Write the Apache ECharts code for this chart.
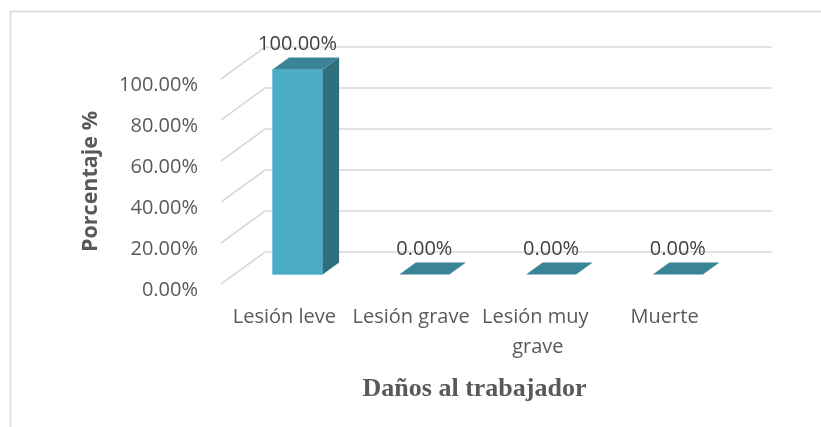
<!DOCTYPE html>
<html>
<head>
<meta charset="utf-8">
<script src="https://cdn.jsdelivr.net/npm/echarts@6/dist/echarts.min.js"></script>
<style>
  html, body { margin: 0; padding: 0; background: #ffffff; }
  #chart { width: 821px; height: 427px; }
</style>
</head>
<body>
<div id="chart"></div>
<script>
// Categories and values (percent of cases)
const categories = ['Lesión leve', 'Lesión grave', 'Lesión muy grave', 'Muerte'];
const percentages = [100, 0, 0, 0];
const yTicks = [0, 20, 40, 60, 80, 100];
const xTitle = 'Daños al trabajador';
const yTitle = 'Porcentaje %';

// Oblique projection of the depth axis (full depth of the plot box)
const DEPTH_X = 44;
const DEPTH_Y = -32;
const BAR_FRONT = 0.30;   // depth fraction of the bar's front face
const BAR_BACK = 0.675;   // depth fraction of the bar's back face
const BAR_WIDTH = 0.395;  // share of the category band

const GRID_COLOR = '#d9d9d9';
const TEXT_COLOR = '#595959';
const FRONT_COLOR = '#4bacc6';
const TOP_COLOR = '#3b8397';
const SIDE_COLOR = '#2f6f7d';
const SANS = '"Open Sans"';

const fmtPct = v => Number(v).toFixed(2) + '%';

const chart = echarts.init(document.getElementById('chart'), null, { renderer: 'canvas' });

// Side wall and back wall gridlines, one polyline per tick value
function renderWalls(params, api) {
  const cs = params.coordSys;
  const v = api.value(0);
  const y = api.coord([0, v])[1];
  const x0 = cs.x;
  const x1 = cs.x + cs.width;
  return {
    type: 'polyline',
    shape: {
      points: [
        [x0, y],
        [x0 + DEPTH_X, y + DEPTH_Y],
        [x1 + DEPTH_X, y + DEPTH_Y]
      ]
    },
    style: { stroke: GRID_COLOR, lineWidth: 1.6, fill: null },
    silent: true
  };
}

// Oblique 3D bar: front, right side and top faces plus value label
function renderBar(params, api) {
  const idx = api.value(0);
  const val = api.value(1);
  const base = api.coord([idx, 0]);
  const top = api.coord([idx, val]);
  const band = api.size([1, 0])[0];
  const w = band * BAR_WIDTH;
  const fx = BAR_FRONT * DEPTH_X, fy = BAR_FRONT * DEPTH_Y;
  const bx = BAR_BACK * DEPTH_X, by = BAR_BACK * DEPTH_Y;
  const left = base[0] - w / 2 + fx;
  const right = left + w;
  const yb = base[1] + fy;
  const yt = top[1] + fy;
  const dx = bx - fx, dy = by - fy;
  const children = [];
  if (yb - yt > 0.5) {
    children.push({
      type: 'polygon',
      shape: { points: [[left, yt], [right, yt], [right, yb], [left, yb]] },
      style: { fill: FRONT_COLOR, stroke: '#5bbad2', lineWidth: 0.6 }
    });
    children.push({
      type: 'polygon',
      shape: { points: [[right, yt], [right + dx, yt + dy], [right + dx, yb + dy], [right, yb]] },
      style: { fill: SIDE_COLOR }
    });
  }
  children.push({
    type: 'polygon',
    shape: { points: [[left, yt], [right, yt], [right + dx, yt + dy], [left + dx, yt + dy]] },
    style: { fill: TOP_COLOR }
  });
  children.push({
    type: 'text',
    style: {
      text: fmtPct(val),
      x: left + w / 2,
      y: yt + dy - 13,
      align: 'center',
      verticalAlign: 'middle',
      fill: '#404040',
      font: '20px ' + SANS
    }
  });
  return { type: 'group', children: children };
}

const option = {
  backgroundColor: '#ffffff',
  animation: false,
  graphic: [{
    type: 'rect',
    shape: { x: 10.5, y: 11.5, width: 840, height: 440 },
    style: { fill: null, stroke: GRID_COLOR, lineWidth: 1.6 },
    silent: true,
    z: -10
  }],
  grid: { left: 221, right: 93, top: 79, bottom: 143 },
  xAxis: {
    type: 'category',
    data: categories,
    boundaryGap: true,
    axisLine: { show: false },
    axisTick: { show: false },
    axisLabel: {
      interval: 0,
      margin: 18,
      color: TEXT_COLOR,
      fontFamily: SANS,
      fontSize: 20,
      lineHeight: 30,
      width: 126,
      overflow: 'break'
    },
    name: xTitle,
    nameLocation: 'middle',
    nameGap: 92,
    nameTextStyle: {
      fontFamily: 'Liberation Serif',
      fontWeight: 'bold',
      fontSize: 26,
      color: TEXT_COLOR
    }
  },
  yAxis: {
    type: 'value',
    min: 0,
    max: 100,
    interval: 20,
    axisLine: { show: false },
    axisTick: { show: false },
    splitLine: { show: false },
    axisLabel: {
      margin: 23,
      color: TEXT_COLOR,
      fontFamily: SANS,
      fontSize: 20,
      verticalAlign: 'top',
      lineHeight: 13,
      formatter: v => fmtPct(v)
    },
    name: yTitle,
    nameLocation: 'middle',
    nameGap: 119,
    nameRotate: 90,
    nameTextStyle: {
      fontFamily: SANS,
      fontWeight: 'bold',
      fontSize: 21.5,
      color: TEXT_COLOR
    }
  },
  series: [
    {
      type: 'custom',
      name: 'walls',
      data: yTicks.map(v => [v]),
      encode: { y: 0 },
      renderItem: renderWalls,
      silent: true,
      z: 1
    },
    {
      type: 'custom',
      name: 'Porcentaje',
      data: percentages.map((v, i) => [i, v]),
      encode: { x: 0, y: 1 },
      renderItem: renderBar,
      z: 5
    }
  ]
};

chart.setOption(option);
</script>
</body>
</html>
